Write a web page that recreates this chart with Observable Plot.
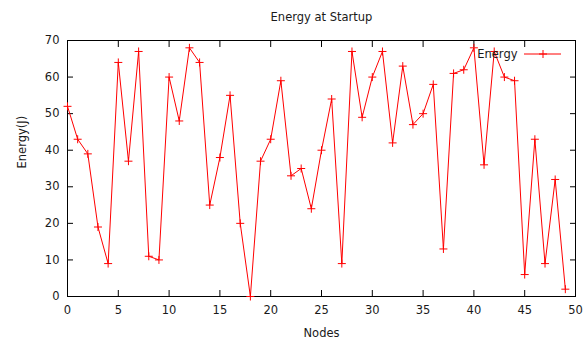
<!DOCTYPE html>
<html>
<head>
<meta charset="utf-8">
<script src="https://cdn.jsdelivr.net/npm/d3@7"></script>
<script src="https://cdn.jsdelivr.net/npm/@observablehq/plot@0.6"></script>
<style>
  html, body { margin: 0; padding: 0; background: #fff; }
  #chart svg { display: block; }
</style>
</head>
<body>
<div id="chart"></div>
<script>
const title = "Energy at Startup";
const xLabel = "Nodes";
const yLabel = "Energy(J)";
const seriesName = "Energy";
const nodes = d3.range(0, 50);
const energy = [52, 43, 39, 19, 9, 64, 37, 67, 11, 10,
                60, 48, 68, 64, 25, 38, 55, 20, 0, 37,
                43, 59, 33, 35, 24, 40, 54, 9, 67, 49,
                60, 67, 42, 63, 47, 50, 58, 13, 61, 62,
                68, 36, 67, 60, 59, 6, 43, 9, 32, 2];
const xTicks = [0, 5, 10, 15, 20, 25, 30, 35, 40, 45, 50];
const yTicks = [0, 10, 20, 30, 40, 50, 60, 70];

const data = nodes.map((n, i) => ({node: n, energy: energy[i]}));

const plusSymbol = {
  draw(context, size) {
    const r = Math.sqrt(size / Math.PI);
    context.moveTo(-r, 0); context.lineTo(r, 0);
    context.moveTo(0, -r); context.lineTo(0, r);
  }
};

const font = "DejaVu Sans, sans-serif";
const fs = 11.5;
const color = "#ff0000";
const blank = () => "";

const plot = Plot.plot({
  width: 587,
  height: 342,
  marginLeft: 67,
  marginRight: 12,
  marginTop: 40,
  marginBottom: 46,
  style: {fontFamily: font, fontSize: fs + "px", color: "#1a1a1a", background: "#fff"},
  x: {domain: [0, 50]},
  y: {domain: [0, 70]},
  marks: [
    Plot.frame({stroke: "#000", strokeWidth: 1}),
    Plot.axisX(xTicks, {anchor: "bottom", tickSize: 0, tickPadding: 9, label: null, fontSize: fs}),
    Plot.axisX(xTicks, {anchor: "bottom", tickSize: -6, tickFormat: blank, label: null, stroke: "#000"}),
    Plot.axisX(xTicks, {anchor: "top", tickSize: -6, tickFormat: blank, label: null, stroke: "#000"}),
    Plot.axisY(yTicks, {anchor: "left", tickSize: 0, tickPadding: 8, label: null, fontSize: fs}),
    Plot.axisY(yTicks, {anchor: "left", tickSize: -6, tickFormat: blank, label: null, stroke: "#000"}),
    Plot.axisY(yTicks, {anchor: "right", tickSize: -6, tickFormat: blank, label: null, stroke: "#000"}),
    Plot.line(data, {x: "node", y: "energy", stroke: color, strokeWidth: 1}),
    Plot.dot(data, {x: "node", y: "energy", symbol: plusSymbol, r: 4, stroke: color, strokeWidth: 1, fill: "none"}),
    Plot.text([title], {frameAnchor: "top", lineAnchor: "middle", dy: -23, fontSize: fs, fill: "#1a1a1a"}),
    Plot.text([xLabel], {frameAnchor: "bottom", lineAnchor: "middle", dy: 37, fontSize: fs, fill: "#1a1a1a"}),
    Plot.text([yLabel], {frameAnchor: "left", dx: -45, rotate: -90, fontSize: fs, fill: "#1a1a1a"}),
    Plot.text([seriesName], {frameAnchor: "top-right", lineAnchor: "middle", dx: -58, dy: 14, textAnchor: "end", fontSize: fs, fill: "#1a1a1a"})
  ]
});

document.getElementById("chart").appendChild(plot);

// legend sample (line + marker) next to the legend text
const svgSel = d3.select(plot);
const xScale = plot.scale("x"), yScale = plot.scale("y");
const frameRight = xScale.range[1];
const frameTop = yScale.range[1];
const legendY = frameTop + 14;
svgSel.append("line")
  .attr("x1", frameRight - 51).attr("x2", frameRight - 14)
  .attr("y1", legendY).attr("y2", legendY)
  .attr("stroke", color).attr("stroke-width", 1);
svgSel.append("path")
  .attr("d", `M${frameRight - 36},${legendY} h8 M${frameRight - 32},${legendY - 4} v8`)
  .attr("stroke", color).attr("stroke-width", 1).attr("fill", "none");
</script>
</body>
</html>
